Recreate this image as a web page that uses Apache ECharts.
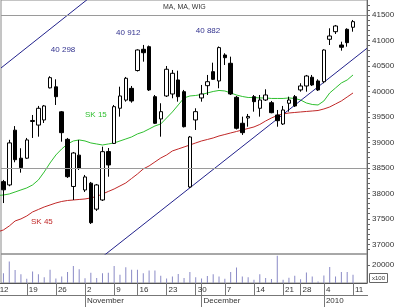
<!DOCTYPE html>
<html><head><meta charset="utf-8">
<script src="https://cdn.jsdelivr.net/npm/echarts@6/dist/echarts.min.js"></script>
<style>html,body{margin:0;padding:0;background:#fff}#c{width:400px;height:307px}</style>
</head><body><div id="c"></div>
<script>
// trading days (index = x position on the day axis)
const days = [
 '2009-10-12','2009-10-13','2009-10-14','2009-10-15','2009-10-16','2009-10-19','2009-10-20','2009-10-21','2009-10-22','2009-10-23',
 '2009-10-26','2009-10-27','2009-10-28','2009-10-29','2009-10-30',
 '2009-11-02','2009-11-03','2009-11-04','2009-11-05','2009-11-06','2009-11-09','2009-11-10','2009-11-12','2009-11-13',
 '2009-11-16','2009-11-17','2009-11-18','2009-11-19','2009-11-20','2009-11-23','2009-11-24','2009-11-25','2009-11-26','2009-11-27','2009-11-30',
 '2009-12-01','2009-12-02','2009-12-03','2009-12-04','2009-12-07','2009-12-08','2009-12-09','2009-12-10','2009-12-11',
 '2009-12-14','2009-12-15','2009-12-16','2009-12-17','2009-12-18','2009-12-21','2009-12-22','2009-12-23','2009-12-28','2009-12-29','2009-12-30','2009-12-31',
 '2010-01-04','2010-01-05','2010-01-06','2010-01-07','2010-01-08','2010-01-11'
];
const open = [null,
 38230,38165,39240,38690,38690,39410,39340,39440,40070,40090,39600,39060,38135,38750,
 38066,38200,37690,37870,38820,38980,39670,39830,40060,40410,40827,40878,39897,39460,39911,39950,40225,39995,38125,39440,
 39872,40113,40388,40205,40715,40552,39885,39375,39479,39897,39669,39832,39779,39538,39361,39768,39897,40029,40107,40278,40205,
 40191,41023,41172,40911,41219,41259];
const close = [null,
 38070,38990,38660,38504,39048,39430,39669,39715,40270,39897,39191,38327,38792,38492,
 38322,37425,38165,38818,38557,39701,39911,40258,39813,40813,40760,40029,39375,39603,40435,40356,39897,39308,39106,39603,
 39950,40191,40238,40860,40662,39950,39277,39191,39509,39799,39832,39930,39583,39426,39636,39832,39715,40107,40303,40127,40029,
 40813,41088,41284,40866,40957,41369];
const low = [null,
 37810,38140,38610,38406,38675,39087,39112,39381,40060,39734,39014,38302,37870,38459,
 38027,37399,37655,37850,38327,38969,39505,39799,39779,40391,40584,40009,39361,39112,39891,39866,39799,39293,38106,39244,
 39799,39930,40225,40062,40519,39930,39254,39146,39308,39603,39505,39813,39571,39308,39342,39603,39695,39995,39995,40107,40009,
 40160,40911,41127,40800,40878,41172];
const high = [null,
 38263,39050,39320,38885,39087,39538,39715,39734,40298,40238,39616,39087,38812,39048,
 38361,38224,38184,38916,38890,39734,40093,40284,40107,40827,40912,40900,39930,39768,40499,40421,40407,40029,39126,39669,
 40127,40323,40564,40882,40749,40682,39911,39505,39558,39930,39930,40042,39813,39636,39715,39897,39930,40160,40323,40323,40238,
 40827,41239,41304,40976,41239,41402];
const volume = [null,
 10900,24000,14400,9800,4800,12900,9800,6400,14800,5000,7300,12300,18900,15300,
 5200,11400,5600,10700,11400,18900,9200,17500,14800,14800,10700,14000,14000,8100,5000,7300,10100,5600,12300,6400,
 5000,7800,9800,7300,4800,12300,17200,7200,6400,3700,9800,5600,4400,30300,3700,5900,8100,4200,11800,7300,1800,
 8400,17800,7300,12200,12200,9200];
const sk15 = [37958,
 37968,37988,38027,38067,38106,38165,38263,38420,38596,38753,38871,38969,39028,39048,
 39028,38989,38969,38949,38969,38989,39028,39067,39107,39166,39205,39263,39322,39362,39479,39597,39734,39872,39911,39921,
 39940,39970,39999,40019,40009,39970,39930,39901,39881,39881,39872,39872,39862,39862,39862,39872,39862,39832,39773,39744,39734,
 39813,39970,40068,40166,40225,40323];
const sk45 = [37243,
 37282,37360,37458,37498,37556,37635,37684,37733,37772,37811,37841,37860,37870,37880,
 37890,37910,37939,37988,38037,38086,38145,38204,38292,38380,38479,38538,38616,38694,38753,38832,38871,38910,38949,38989,
 39028,39057,39087,39126,39155,39185,39214,39244,39273,39303,39352,39420,39479,39528,39558,39577,39587,39597,39607,39616,39626,
 39656,39695,39754,39813,39891,39970];
// trend channel lines: [dayIndex, price] endpoints
const trendUpper = [[0.58, 40460], [16, 41859]];
const trendLower = [[17, 36668], [63.4, 40847]];
const refLevels = [41500, 38500];
const priceTicks = [37000,37500,38000,38500,39000,39500,40000,40500,41000,41500];
const volumeTicks = [20000];
const peakIdx = [9, 25, 38];
const monthNames = ['January','February','March','April','May','June','July','August','September','October','November','December'];

const XMIN = 0.58, XMAX = 63.4, XMIN_D = -0.28;
const dates = days.map(d => new Date(d + 'T00:00:00Z'));
const mondayIdx = days.map((d, i) => i).filter(i => dates[i].getUTCDay() === 1);
const monthIdx = days.map((d, i) => i).filter(i => i > 0 && dates[i].getUTCMonth() !== dates[i - 1].getUTCMonth());
const monthLabel = i => dates[i].getUTCMonth() === 0 ? String(dates[i].getUTCFullYear()) : monthNames[dates[i].getUTCMonth()];

const candleData = [], volData = [];
days.forEach((d, i) => {
  if (open[i] != null) {
    candleData.push([i, open[i], close[i], low[i], high[i]]);
    volData.push([i, volume[i]]);
  }
});
const fmtK = v => String(v).replace(/(\d+)(\d{3})$/, '$1 $2');
const peakOffsets = [[13, -26], [-15, -12], [-11, -16]];
const minorTicks = [];
for (let v = 36900; v <= 41700; v += 100) minorTicks.push(v);

const FONT = 'Liberation Sans, Arial, sans-serif';
const chart = echarts.init(document.getElementById('c'), null, {renderer: 'canvas'});
chart.setOption({
  animation: false,
  backgroundColor: '#fff',
  textStyle: {fontFamily: FONT},
  grid: [
    {left: 1, top: 0, width: 366, height: 254, show: true, borderColor: '#8a8a8a', borderWidth: 1, containLabel: false, outerBoundsMode: 'none'},
    {left: 1, top: 254, width: 366, height: 29, show: true, borderColor: '#8a8a8a', borderWidth: 1, containLabel: false, outerBoundsMode: 'none'},
    {left: -4, top: 270, width: 371, height: 13, containLabel: false, outerBoundsMode: 'none'},
    {left: -4, top: 283, width: 371, height: 24, containLabel: false, outerBoundsMode: 'none'}
  ],
  xAxis: [
    {gridIndex: 0, type: 'value', min: XMIN, max: XMAX, show: false},
    {gridIndex: 1, type: 'value', min: XMIN, max: XMAX, show: false},
    {gridIndex: 2, type: 'value', min: XMIN_D, max: XMAX, position: 'bottom',
      axisLine: {show: true, onZero: false, lineStyle: {color: '#555', width: 1}},
      axisTick: {show: true, customValues: mondayIdx, length: 12, lineStyle: {color: '#777'}},
      axisLabel: {show: true, customValues: mondayIdx, formatter: v => String(dates[Math.round(v)].getUTCDate()),
        align: 'left', margin: 3, padding: [0, 0, 0, 2], fontSize: 8, color: '#333', fontFamily: FONT},
      splitLine: {show: false}},
    {gridIndex: 3, type: 'value', min: XMIN_D, max: XMAX, position: 'top',
      axisLine: {show: false, onZero: false},
      axisTick: {show: true, inside: true, customValues: monthIdx, length: 24, lineStyle: {color: '#777'}},
      axisLabel: {show: true, inside: true, customValues: monthIdx, formatter: v => monthLabel(Math.round(v)),
        align: 'left', margin: 14, padding: [0, 0, 0, 2], fontSize: 8, color: '#333', fontFamily: FONT},
      splitLine: {show: false}}
  ],
  yAxis: [
    {gridIndex: 0, type: 'value', position: 'right', min: 36810, max: 41794, scale: true,
      axisLine: {show: true, lineStyle: {color: '#666'}},
      axisTick: {show: true, customValues: minorTicks, length: 3, lineStyle: {color: '#666'}},
      axisLabel: {show: true, customValues: priceTicks, formatter: v => String(v), fontSize: 8, color: '#333', margin: 5, fontFamily: FONT},
      splitLine: {show: false}},
    {gridIndex: 1, type: 'value', position: 'right', min: 0, max: 32222,
      axisLine: {show: true, lineStyle: {color: '#666'}},
      axisTick: {show: true, customValues: volumeTicks, length: 3, lineStyle: {color: '#666'}},
      axisLabel: {show: true, customValues: volumeTicks, formatter: v => String(v), fontSize: 8, color: '#333', margin: 5, fontFamily: FONT},
      splitLine: {show: false}},
    {gridIndex: 2, type: 'value', show: false},
    {gridIndex: 3, type: 'value', show: false}
  ],
  series: [
    {type: 'line', name: 'SK 15', xAxisIndex: 0, yAxisIndex: 0, data: sk15.map((v, i) => [i, v]),
      symbol: 'none', lineStyle: {color: '#2fbf2f', width: 1}, z: 2, silent: true},
    {type: 'line', name: 'SK 45', xAxisIndex: 0, yAxisIndex: 0, data: sk45.map((v, i) => [i, v]),
      symbol: 'none', lineStyle: {color: '#c02828', width: 1}, z: 2, silent: true},
    {type: 'line', xAxisIndex: 0, yAxisIndex: 0, data: trendUpper, symbol: 'none',
      lineStyle: {color: '#22228c', width: 1}, z: 2, silent: true, clip: true},
    {type: 'line', xAxisIndex: 0, yAxisIndex: 0, data: trendLower, symbol: 'none',
      lineStyle: {color: '#22228c', width: 1}, z: 2, silent: true, clip: true},
    {type: 'candlestick', name: 'WIG', xAxisIndex: 0, yAxisIndex: 0, data: candleData, barWidth: 4, z: 3,
      itemStyle: {color: '#ffffff', color0: '#000000', borderColor: '#000000', borderColor0: '#000000', borderWidth: 1},
      markLine: {silent: true, symbol: ['none', 'none'], label: {show: false}, animation: false,
        lineStyle: {color: '#9a9a9a', type: 'solid', width: 1}, data: refLevels.map(v => ({yAxis: v}))},
      markPoint: {silent: true, symbol: 'circle', symbolSize: 1, itemStyle: {color: 'rgba(0,0,0,0)'}, animation: false,
        label: {show: true, position: 'inside', color: '#33338f', fontSize: 8, fontFamily: FONT, formatter: p => p.name},
        data: peakIdx.map((k, j) => ({name: fmtK(high[k]), coord: [k, high[k]], label: {offset: peakOffsets[j]}}))}
    },
    {type: 'bar', name: 'Volume', xAxisIndex: 1, yAxisIndex: 1, data: volData, barWidth: 1,
      itemStyle: {color: '#8a8ac6'}, silent: true}
  ],
  graphic: [
    {type: 'text', left: 163, top: 4, style: {text: 'MA, MA, WIG', fontSize: 7, fill: '#333', fontFamily: FONT}},
    {type: 'text', left: 85, top: 111, style: {text: 'SK 15', fontSize: 8, fill: '#2fbf2f', fontFamily: FONT}},
    {type: 'text', left: 31, top: 218, style: {text: 'SK 45', fontSize: 8, fill: '#c02828', fontFamily: FONT}},
    {type: 'line', shape: {x1: 0, y1: 295.5, x2: 368, y2: 295.5}, style: {stroke: '#777', lineWidth: 1}},
    {type: 'group', left: 369, top: 273, children: [
      {type: 'rect', shape: {x: 0, y: 0, width: 18, height: 9}, style: {fill: '#fff', stroke: '#666', lineWidth: 1}},
      {type: 'text', x: 9, y: 4.5, style: {text: 'x100', fontSize: 6, fill: '#333', align: 'center', verticalAlign: 'middle', fontFamily: FONT}}
    ]}
  ]
});
</script>
</body></html>
